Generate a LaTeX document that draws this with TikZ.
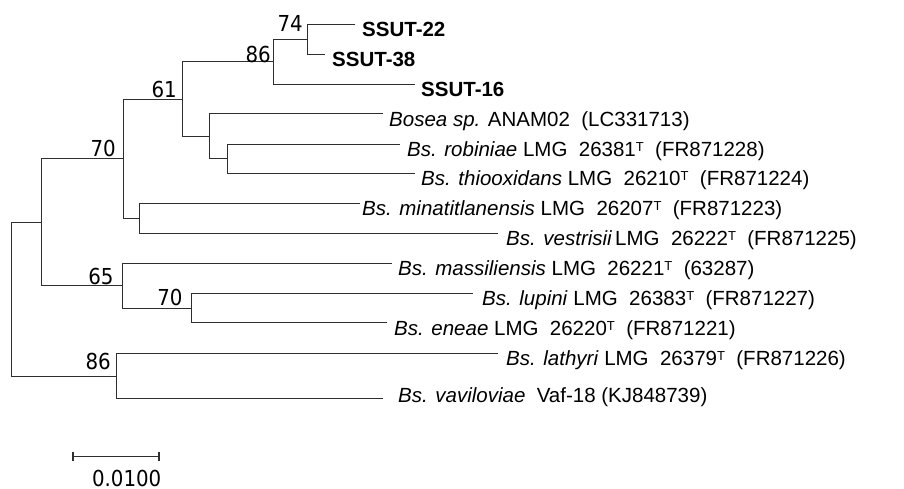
\documentclass[tikz,border=0pt]{standalone}
\usepackage{fontspec}
\setmainfont{Liberation Sans}
\newfontfamily\numfont{DejaVu Sans Condensed}
\newcommand\supT{\raisebox{5.2pt}{\fontsize{13}{13}\selectfont T}}
\begin{document}
\begin{tikzpicture}[x=1pt,y=-1pt,
  br/.style={line width=1.2pt, draw=black!82},
  leaf/.style={anchor=base west, inner sep=0pt, font=\fontsize{20.5}{24}\selectfont},
  bs/.style={anchor=base east, inner sep=0pt, font=\numfont\fontsize{22}{24}\selectfont}]
\useasboundingbox (0,0) rectangle (904,489);
% internal nodes
\coordinate (R) at (11.5,299.5);
\coordinate (E) at (41.5,222.5);
\coordinate (N70a) at (123.5,158.5);
\coordinate (N61) at (182.5,99.5);
\coordinate (N86a) at (273.5,61.5);
\coordinate (N74) at (307.5,39.5);
\coordinate (B) at (209.5,136.5);
\coordinate (C) at (227.5,158.5);
\coordinate (D) at (139.5,218.5);
\coordinate (N65) at (122.5,285.5);
\coordinate (N70b) at (191.5,308.5);
\coordinate (N86b) at (116.5,376.5);
% tips
\coordinate (t1) at (355,24.5);
\coordinate (t2) at (325,54.5);
\coordinate (t3) at (415,84.5);
\coordinate (t4) at (383,113.5);
\coordinate (t5) at (400,144.5);
\coordinate (t6) at (415,173.5);
\coordinate (t7) at (360,203.5);
\coordinate (t8) at (498,233.5);
\coordinate (t9) at (392,263.5);
\coordinate (t10) at (473,293.5);
\coordinate (t11) at (387,322.5);
\coordinate (t12) at (498,353.5);
\coordinate (t13) at (383,398.5);
% branches
\draw[br] (R) |- (E);
\draw[br] (R) |- (N86b);
\draw[br] (E) |- (N70a);
\draw[br] (E) |- (N65);
\draw[br] (N70a) |- (N61);
\draw[br] (N70a) |- (D);
\draw[br] (N61) |- (N86a);
\draw[br] (N61) |- (B);
\draw[br] (N86a) |- (N74);
\draw[br] (N86a) |- (t3);
\draw[br] (N74) |- (t1);
\draw[br] (N74) |- (t2);
\draw[br] (B) |- (t4);
\draw[br] (B) |- (C);
\draw[br] (C) |- (t5);
\draw[br] (C) |- (t6);
\draw[br] (D) |- (t7);
\draw[br] (D) |- (t8);
\draw[br] (N65) |- (t9);
\draw[br] (N65) |- (N70b);
\draw[br] (N70b) |- (t10);
\draw[br] (N70b) |- (t11);
\draw[br] (N86b) |- (t12);
\draw[br] (N86b) |- (t13);
% bootstrap values
\node[bs] (b74) at (303,31.7) {74};
\node[bs] (b86a) at (271,62.7) {86};
\node[bs] (b61) at (177,97.7) {61};
\node[bs] (b70a) at (116,156.7) {70};
\node[bs] (b65) at (113.7,284.3) {65};
\node[bs] (b70b) at (182.7,305) {70};
\node[bs] (b86b) at (111,369) {86};
% leaf labels
\node[leaf] (l1) at (362,36.5) {\textbf{SSUT-22}};
\node[leaf] (l2) at (332,66.5) {\textbf{SSUT-38}};
\node[leaf] (l3) at (421,96.5) {\textbf{SSUT-16}};
\node[leaf] (l4) at (389,126.2) {\textit{Bosea sp.} ANAM02\ \ (LC331713)};
\node[leaf] (l5) at (407,156.5) {\textit{Bs. robiniae} LMG\ \ 26381\supT\ \ (FR871228)};
\node[leaf] (l6) at (421,185.8) {\textit{Bs. thiooxidans} LMG\ \ 26210\supT\ \ (FR871224)};
\node[leaf] (l7) at (362,215.8) {\textit{Bs. minatitlanensis} LMG\ \ 26207\supT\ \ (FR871223)};
\node[leaf] (l8) at (506,245.8) {\textit{Bs. vestrisii}\hspace{3pt}LMG\ \ 26222\supT\ \ (FR871225)};
\node[leaf] (l9) at (398,275.8) {\textit{Bs. massiliensis} LMG\ \ 26221\supT\ \ (63287)};
\node[leaf] (l10) at (482,305.8) {\textit{Bs. lupini} LMG\ \ 26383\supT\ \ (FR871227)};
\node[leaf] (l11) at (394,335.2) {\textit{Bs. eneae} LMG\ \ 26220\supT\ \ (FR871221)};
\node[leaf] (l12) at (506,365.8) {\textit{Bs. lathyri} LMG\ \ 26379\supT\ \ (FR871226)};
\node[leaf] (l13) at (398,402) {\textit{Bs. vaviloviae}\ \ Vaf-18 (KJ848739)};
% scale bar
\coordinate (s1) at (73,456.5);
\coordinate (s2) at (159,456.5);
\draw[br, line width=1.1pt] (s1) -- (s2);
\draw[br, line width=1.1pt] ([yshift=4.5pt]s1) -- ([yshift=-4.5pt]s1);
\draw[br, line width=1.1pt] ([yshift=4.5pt]s2) -- ([yshift=-4.5pt]s2);
\node[bs] (sl) at (161.5,486) {0.0100};
\end{tikzpicture}
\end{document}
